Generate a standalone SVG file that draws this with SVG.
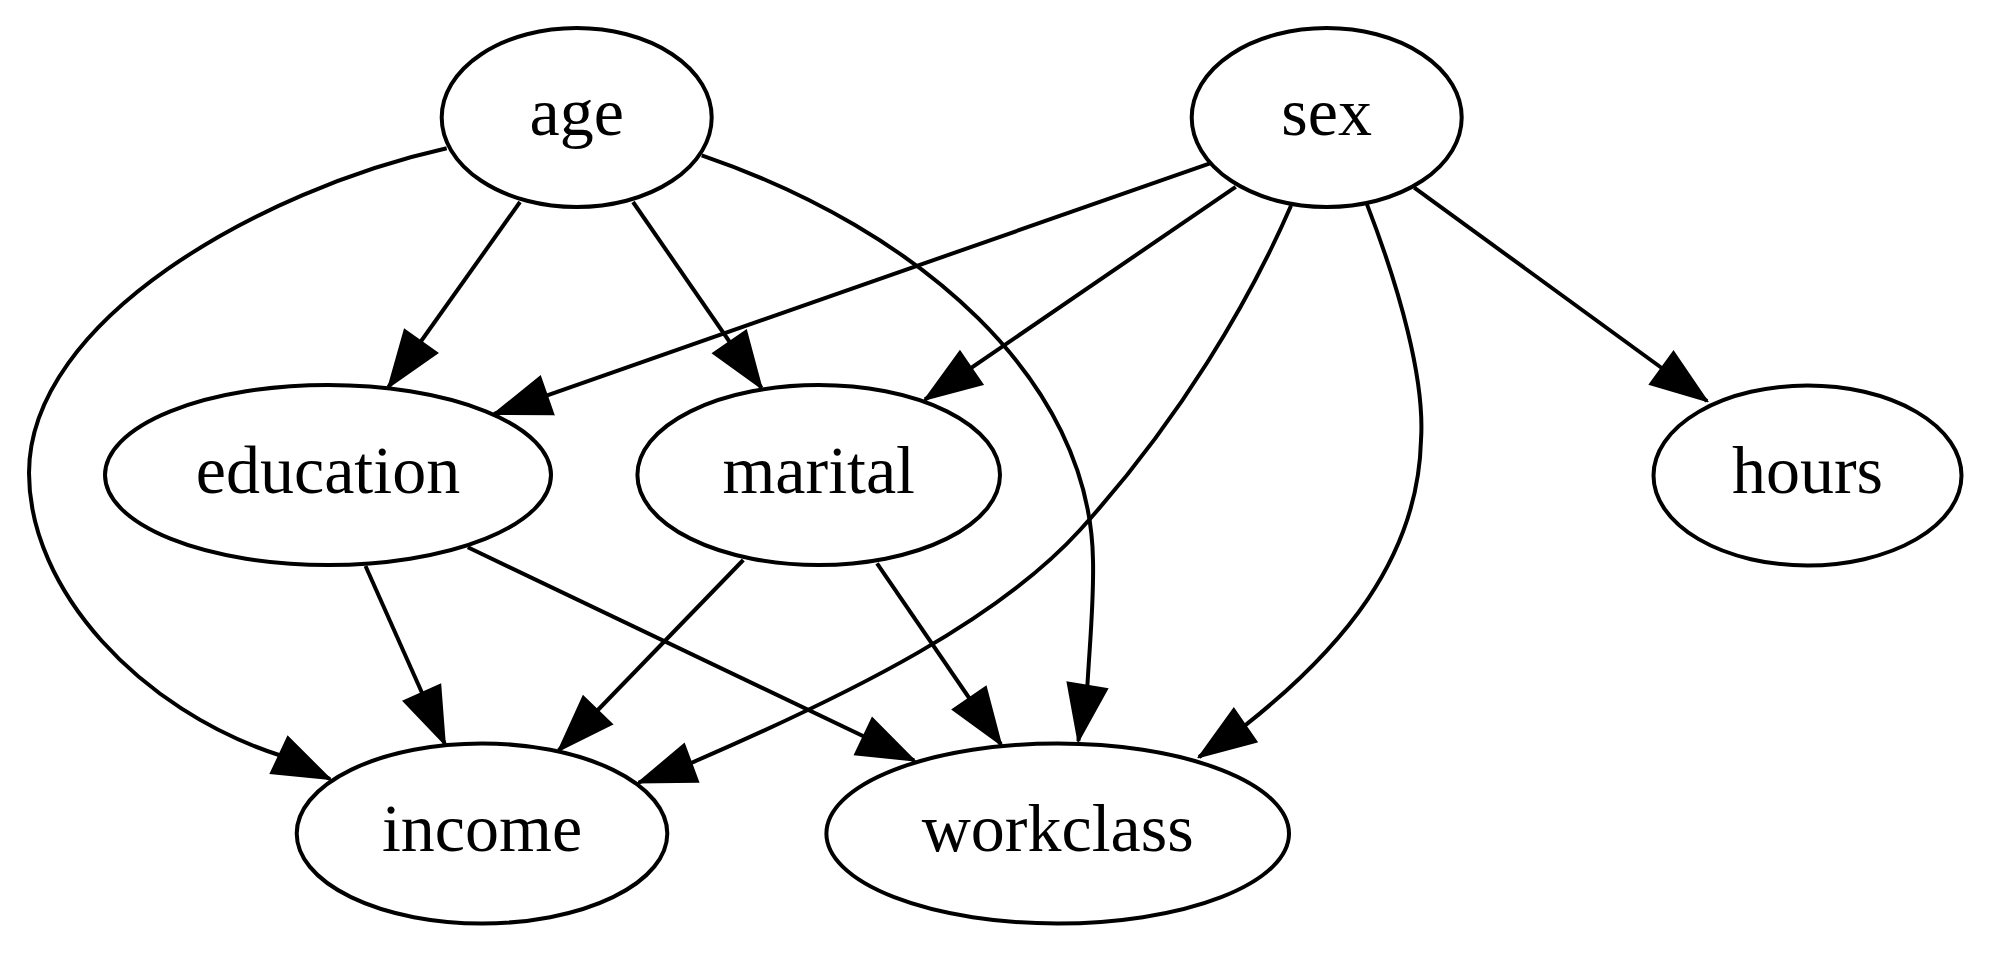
<svg xmlns="http://www.w3.org/2000/svg" width="1990" height="953" viewBox="0 0 1990 953">
<style>
.node ellipse{fill:none;stroke:#000;stroke-width:4}
.node text{font-family:"Liberation Serif","Times New Roman",serif;font-size:68px;text-anchor:middle;fill:#000}
.edge{fill:none;stroke:#000;stroke-width:4;marker-end:url(#arrow)}
</style>
<defs>
<marker id="arrow" markerUnits="userSpaceOnUse" viewBox="-2 -2 60 44" markerWidth="60" markerHeight="44" refX="56" refY="20" orient="auto">
<path d="M0,0 L56,20 L0,40 Z" fill="#000" stroke="#000" stroke-width="2" stroke-linejoin="miter"/>
</marker>
</defs>
<rect width="1990" height="953" fill="#fff"/>
<g id="edges">
<path id="age-education" class="edge" d="M520,202 L388.5,387"/>
<path id="age-marital" class="edge" d="M633,202 L761.5,388"/>
<path id="age-income" class="edge" d="M446.7,148.3 C260,190 29,320 29,473 C29,590 140,710 279,755 L330,779"/>
<path id="age-workclass" class="edge" d="M701.7,155.3 C920,230 1090,380 1093,560 C1094,600 1090,640 1087.4,685.4 L1078.3,741"/>
<path id="sex-education" class="edge" d="M1210,163.3 L494,414"/>
<path id="sex-marital" class="edge" d="M1235.7,186.8 L925,399.5"/>
<path id="sex-income" class="edge" d="M1291,205.8 C1250,300 1180,420 1080,530 C1000,618 860,690 691,763 L638.7,782.5"/>
<path id="sex-workclass" class="edge" d="M1366.7,203.6 C1400,290 1425,380 1421,440 C1418,560 1340,650 1246.4,724.4 L1199,757"/>
<path id="sex-hours" class="edge" d="M1414.2,187.6 L1707,401"/>
<path id="education-income" class="edge" d="M365.5,566 L444.8,744"/>
<path id="education-workclass" class="edge" d="M467.8,547.3 L914.2,760.5"/>
<path id="marital-income" class="edge" d="M743.3,560 L558.6,750.5"/>
<path id="marital-workclass" class="edge" d="M877,563.3 L1001,744.5"/>
</g>
<g id="age" class="node"><ellipse cx="576.7" cy="117.5" rx="135" ry="89.5"/><text x="576.7" y="135">age</text></g>
<g id="sex" class="node"><ellipse cx="1326.7" cy="117.5" rx="135" ry="89.5"/><text x="1326.7" y="135">sex</text></g>
<g id="education" class="node"><ellipse cx="328" cy="475" rx="223" ry="90"/><text x="328" y="492.5">education</text></g>
<g id="marital" class="node"><ellipse cx="818.7" cy="475" rx="181.3" ry="90"/><text x="818.7" y="492.5">marital</text></g>
<g id="hours" class="node"><ellipse cx="1807.5" cy="475.5" rx="154" ry="90"/><text x="1807.5" y="493">hours</text></g>
<g id="income" class="node"><ellipse cx="482" cy="833.5" rx="185.3" ry="90"/><text x="482" y="851">income</text></g>
<g id="workclass" class="node"><ellipse cx="1057.7" cy="833.5" rx="231.3" ry="90"/><text x="1057.7" y="851">workclass</text></g>
</svg>
